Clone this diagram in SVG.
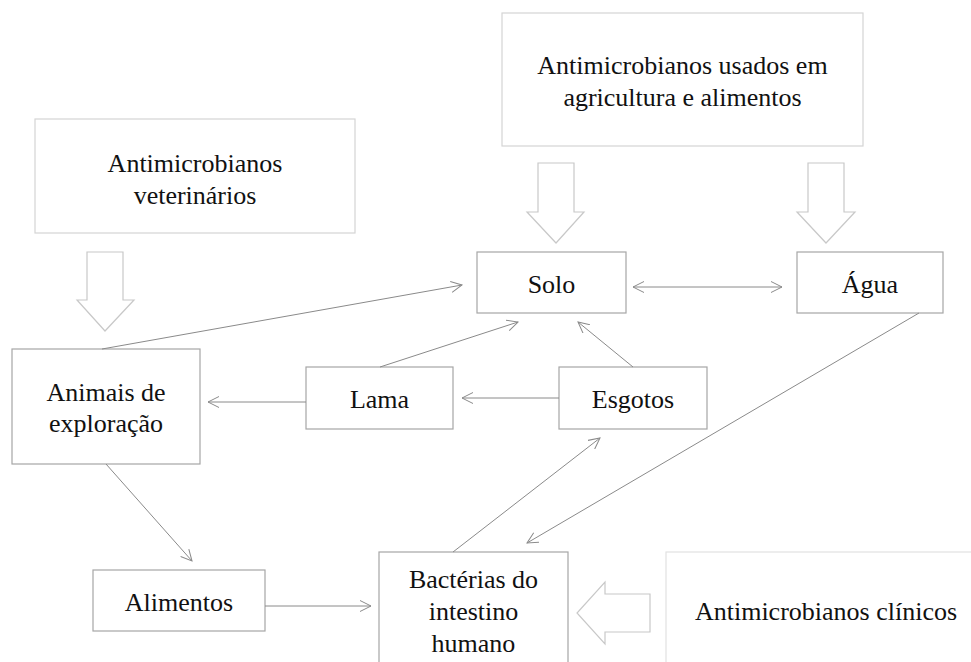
<svg xmlns="http://www.w3.org/2000/svg" width="971" height="662" viewBox="0 0 971 662">
<defs>
<marker id="ah" markerUnits="userSpaceOnUse" viewBox="0 0 12 12" refX="11" refY="6" markerWidth="12" markerHeight="12" orient="auto-start-reverse">
<path d="M0,0.5 L11,6 L0,11.5" fill="none" stroke="#8a8a8a" stroke-width="1"/>
</marker>
<style>
.t{font-family:"Liberation Serif","Times New Roman",serif;font-size:26px;fill:#111;text-anchor:middle}
.node{fill:#fff;stroke:#a6a6a6;stroke-width:1.2}
.src{fill:#fff;stroke:#d4d4d4;stroke-width:1.2}
.src2{fill:#fff;stroke:#e2e2e2;stroke-width:1.2}
.fat{fill:#fff;stroke:#c8c8c8;stroke-width:1.2}
.c{fill:none;stroke:#8a8a8a;stroke-width:1;marker-end:url(#ah)}
</style>
</defs>
<rect width="971" height="662" fill="#fff"/>
<g id="vet">
<rect class="src" x="35" y="119" width="320" height="114"/>
<text class="t" x="195" y="172">Antimicrobianos</text>
<text class="t" x="195" y="204">veterinários</text>
</g>
<g id="agri">
<rect class="src" x="502" y="13" width="361" height="133"/>
<text class="t" x="682.5" y="74">Antimicrobianos usados em</text>
<text class="t" x="682.5" y="106">agricultura e alimentos</text>
</g>
<g id="clin">
<rect class="src2" x="666" y="552" width="330" height="130"/>
<text class="t" x="826" y="620">Antimicrobianos clínicos</text>
</g>
<g id="fat-arrows">
<path class="fat" d="M87,252 H123 V300 H134 L105,331 L77,300 H87 Z"/>
<path class="fat" d="M538,163 H574 V212 H584 L556,243 L527,212 H538 Z"/>
<path class="fat" d="M808,163 H844 V212 H855 L826,243 L797,212 H808 Z"/>
<path class="fat" d="M650,594 V632 H605 V644 L577,613 L605,582 V594 Z"/>
</g>
<g id="solo">
<rect class="node" x="477" y="252" width="149" height="61"/>
<text class="t" x="551.5" y="293">Solo</text>
</g>
<g id="agua">
<rect class="node" x="797" y="252" width="146" height="61"/>
<text class="t" x="870" y="293">Água</text>
</g>
<g id="animais">
<rect class="node" x="12" y="349" width="188" height="115"/>
<text class="t" x="106" y="401">Animais de</text>
<text class="t" x="106" y="432">exploração</text>
</g>
<g id="lama">
<rect class="node" x="306" y="367" width="147" height="62"/>
<text class="t" x="379.5" y="408">Lama</text>
</g>
<g id="esgotos">
<rect class="node" x="559" y="367" width="148" height="62"/>
<text class="t" x="633" y="408">Esgotos</text>
</g>
<g id="alimentos">
<rect class="node" x="93" y="570" width="172" height="61"/>
<text class="t" x="179" y="611">Alimentos</text>
</g>
<g id="bacterias">
<rect class="node" x="379" y="552" width="189" height="130"/>
<text class="t" x="473.5" y="588">Bactérias do</text>
<text class="t" x="473.5" y="620">intestino</text>
<text class="t" x="473.5" y="652">humano</text>
</g>
<g id="connectors">
<line class="c" x1="102" y1="349" x2="462" y2="285"/>
<line class="c" x1="633" y1="287" x2="782" y2="287" marker-start="url(#ah)"/>
<line class="c" x1="380" y1="367" x2="518" y2="322"/>
<line class="c" x1="633" y1="367" x2="578" y2="322"/>
<line class="c" x1="306" y1="402" x2="208" y2="402"/>
<line class="c" x1="559" y1="398" x2="462" y2="398"/>
<line class="c" x1="106" y1="464" x2="192" y2="561"/>
<line class="c" x1="265" y1="606" x2="371" y2="606"/>
<line class="c" x1="453" y1="552" x2="600" y2="438"/>
<line class="c" x1="919" y1="313" x2="527" y2="543"/>
</g>
</svg>
